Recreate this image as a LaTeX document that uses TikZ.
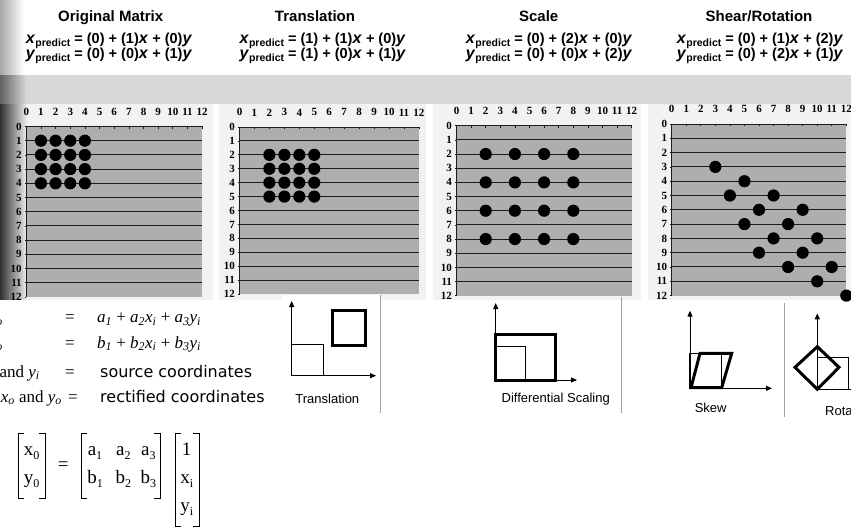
\documentclass[tikz,border=0pt]{standalone}
\usepackage{fontspec}
\setmainfont{Liberation Serif}
\newfontfamily\arial{Liberation Sans}
\newfontfamily\verd{DejaVu Sans}
\usetikzlibrary{arrows.meta,fadings}

\definecolor{bandgray}{RGB}{216,216,216}
\definecolor{panelgray}{RGB}{242,242,242}
\definecolor{gridgray}{RGB}{174,174,174}
\definecolor{lineink}{RGB}{28,28,28}
\definecolor{sepgray}{RGB}{160,160,160}

\newcommand\fsz[1]{\fontsize{#1}{#1}\selectfont}
\newcommand\peq[4]{{\fsz{16}\textit{#1}}\raisebox{-3pt}{\fsz{10.5}predict} = (#2) + (#3){\fsz{16}\textit{x}} + (#4){\fsz{16}\textit{y}}}
\newcommand\isub[2]{\textit{#1}\textsubscript{\textit{#2}}}
\newcommand\usub[2]{#1\raisebox{-4pt}{\fsz{12}#2}}

\newcommand\gridpanel[6]{%
\begin{scope}[shift={(#2pt,-#3pt)}, x=#4pt, y=-#5pt]
  \fill[gridgray] (0,0) rectangle (12,12);
  \foreach \j in {1,...,11} \draw[gridline] (0,\j) -- (12,\j);
  \draw[axisline] (0,0) -- (12,0);
  \draw[axisline] (0,0) -- (0,12);
  \foreach \i in {0,...,12} {
    \draw[axisline] (\i,0) -- (\i,0.15);
    \node[collabel] (#1c\i) at (\i,-1.05) {\i};
    \draw[axisline] (-0.12,\i) -- (0,\i);
    \node[rowlabel] (#1r\i) at (-0.3,\i) {\i};
  }
  \foreach \dx/\dy in {#6} \fill[black] (\dx,\dy) circle (6.1pt);
\end{scope}}

\begin{document}
\begin{tikzpicture}[x=1pt,y=-1pt,
  gridline/.style={draw=lineink,line width=1pt},
  axisline/.style={draw=lineink,line width=0.7pt},
  collabel/.style={font=\fsz{11}\bfseries,inner sep=0pt},
  rowlabel/.style={font=\fsz{11}\bfseries,inner sep=0pt,anchor=east},
  title/.style={font=\arial\bfseries\fsz{15},inner sep=0pt,anchor=base},
  eqn/.style={font=\arial\bfseries\fsz{14.5},inner sep=0pt,anchor=base},
  axisarrow/.style={draw=black,line width=1pt,-{Triangle[length=6pt,width=5pt]}},
  thinbox/.style={draw=black,line width=1.1pt},
  thickbox/.style={draw=black,line width=3pt,line join=miter},
  caplabel/.style={font=\arial\fsz{13},inner sep=0pt},
  sepline/.style={draw=sepgray,line width=0.8pt},
  fml/.style={font=\fsz{17},inner sep=0pt,anchor=base west},
  eqsign/.style={font=\fsz{17},inner sep=0pt,anchor=base},
  sansfml/.style={font=\verd\fsz{16},inner sep=0pt,anchor=base west},
  mtx/.style={font=\fsz{19},inner sep=0pt,anchor=base},
  brk/.style={draw=black,line width=0.8pt},
]
\useasboundingbox (0,0) rectangle (851,529);
\fill[white] (0,0) rectangle (851,529);

% band and panels
\fill[bandgray] (0,75) rectangle (851,104);
\fill[panelgray] (0,104) rectangle (213,300);
\fill[panelgray] (219,104) rectangle (426,300);
\fill[panelgray] (433,104) rectangle (641,300);
\fill[panelgray] (648,104) rectangle (851,300);

% scan shadow on the left
\fill[black,opacity=0.35,path fading=east] (0,0) rectangle (24,75);
\fill[black,opacity=0.55,path fading=east] (0,75) rectangle (26,104);
\fill[black,opacity=0.8,path fading=east] (0,104) rectangle (27,300);

% titles
\node[title] (t1) at (110.7,22) {Original Matrix};
\node[eqn] (e1a) at (109,44) {\peq{x}{0}{1}{0}};
\node[eqn] (e1b) at (109,59) {\peq{y}{0}{0}{1}};
\node[title] (t2) at (315,22) {Translation};
\node[eqn] (e2a) at (322.7,44) {\peq{x}{1}{1}{0}};
\node[eqn] (e2b) at (322.7,59) {\peq{y}{1}{0}{1}};
\node[title] (t3) at (538.7,22) {Scale};
\node[eqn] (e3a) at (549,44) {\peq{x}{0}{2}{0}};
\node[eqn] (e3b) at (549,59) {\peq{y}{0}{0}{2}};
\node[title] (t4) at (759,22) {Shear/Rotation};
\node[eqn] (e4a) at (760,44) {\peq{x}{0}{1}{2}};
\node[eqn] (e4b) at (760,59) {\peq{y}{0}{2}{1}};

% grids
\gridpanel{pa}{26.3}{126.5}{14.65}{14.2}{1/1,2/1,3/1,4/1,1/2,2/2,3/2,4/2,1/3,2/3,3/3,4/3,1/4,2/4,3/4,4/4}
\gridpanel{pb}{239.5}{127}{14.95}{13.92}{2/2,3/2,4/2,5/2,2/3,3/3,4/3,5/3,2/4,3/4,4/4,5/4,2/5,3/5,4/5,5/5}
\gridpanel{pc}{456.5}{125.7}{14.6}{14.17}{2/2,4/2,6/2,8/2,2/4,4/4,6/4,8/4,2/6,4/6,6/6,8/6,2/8,4/8,6/8,8/8}
\gridpanel{pd}{671.7}{124}{14.55}{14.3}{3/3,5/4,4/5,7/5,6/6,9/6,5/7,8/7,7/8,10/8,6/9,9/9,8/10,11/10,10/11,12/12}

% white boxes of the small sketches
\fill[white] (281.7,295) rectangle (380,415);

% Translation sketch
\coordinate (trO) at (291.7,375.7);
\coordinate (trY) at (291.7,301);
\coordinate (trX) at (376,375.7);
\draw[thinbox] (291.7,344.3) rectangle (323.3,375.7);
\draw[axisarrow] (trO) -- (trY);
\draw[axisarrow] (trO) -- (trX);
\draw[thickbox] (332.7,310.7) rectangle (365.7,345);
\node[caplabel] (trL) at (327.3,399) {Translation};
\coordinate (s1a) at (380,295);
\coordinate (s1b) at (380,413);
\draw[sepline] (s1a) -- (s1b);

% Differential scaling sketch
\coordinate (dsO) at (495.7,380);
\coordinate (dsY) at (495.7,303);
\coordinate (dsX) at (577,380);
\draw[thinbox] (495.7,346.7) rectangle (525.7,380);
\draw[axisarrow] (dsO) -- (dsY);
\draw[axisarrow] (dsO) -- (dsX);
\draw[thickbox] (495.7,334.3) rectangle (555,380);
\node[caplabel] (dsL) at (555.7,399) {Differential Scaling};
\coordinate (s2a) at (621.7,297);
\coordinate (s2b) at (621.7,413);
\draw[sepline] (s2a) -- (s2b);

% Skew sketch
\coordinate (skO) at (690,388.3);
\coordinate (skY) at (690,310.7);
\coordinate (skX) at (772,388.3);
\draw[thinbox] (690,353.3) rectangle (721.7,388.3);
\draw[axisarrow] (skO) -- (skY);
\draw[axisarrow] (skO) -- (skX);
\draw[thickbox] (691,387.7) -- (721.7,387.7) -- (731.7,353.3) -- (700,353.3) -- cycle;
\node[caplabel] (skL) at (710.7,408.3) {Skew};
\coordinate (s3a) at (784.3,303);
\coordinate (s3b) at (784.3,417);
\draw[sepline] (s3a) -- (s3b);

% Rotation sketch
\coordinate (roO) at (817.3,389.3);
\coordinate (roY) at (817.3,313.3);
\coordinate (roX) at (880,389.3);
\draw[thinbox] (817.3,357.7) rectangle (848.3,389.3);
\draw[axisarrow] (roO) -- (roY);
\draw[axisarrow] (roO) -- (roX);
\draw[thickbox] (817.3,346.7) -- (795,367.3) -- (817.3,389.3) -- (839,367.3) -- cycle;
\node[caplabel,anchor=west] (roL) at (825,410.7) {Rotation};

% equations bottom left
\node[fml,anchor=base east] (l1a) at (3,323) {\isub{x}{o}};
\node[eqsign] (l1b) at (70,323) {=};
\node[fml] (l1c) at (97,323) {\isub{a}{1} + \isub{a}{2}\isub{x}{i} + \isub{a}{3}\isub{y}{i}};
\node[fml,anchor=base east] (l2a) at (3,348) {\isub{y}{o}};
\node[eqsign] (l2b) at (70,348) {=};
\node[fml] (l2c) at (97,348) {\isub{b}{1} + \isub{b}{2}\isub{x}{i} + \isub{b}{3}\isub{y}{i}};
\node[fml,anchor=base east] (l3a) at (40,377) {\isub{x}{i} and \isub{y}{i}};
\node[eqsign] (l3b) at (70,377) {=};
\node[sansfml] (l3c) at (100,377) {source coordinates};
\node[fml,anchor=base east] (l4a) at (62,402) {\isub{x}{o} and \isub{y}{o}};
\node[eqsign] (l4b) at (73,402) {=};
\node[sansfml] (l4c) at (100,402) {rectified coordinates};

% matrix equation
\draw[brk] (24,433) -- (18.3,433) -- (18.3,498.3) -- (24,498.3);
\draw[brk] (39.3,433) -- (45,433) -- (45,498.3) -- (39.3,498.3);
\node[mtx] (m1) at (31.7,455) {\usub{x}{0}};
\node[mtx] (m2) at (31.7,483) {\usub{y}{0}};
\node[mtx] (meq) at (63.3,470) {=};
\draw[brk] (87.4,433) -- (81.7,433) -- (81.7,498.3) -- (87.4,498.3);
\draw[brk] (154.3,433) -- (160,433) -- (160,498.3) -- (154.3,498.3);
\node[mtx] (ma1) at (95,455) {\usub{a}{1}};
\node[mtx] (ma2) at (123.3,455) {\usub{a}{2}};
\node[mtx] (ma3) at (148.3,455) {\usub{a}{3}};
\node[mtx] (mb1) at (95,483) {\usub{b}{1}};
\node[mtx] (mb2) at (123.3,483) {\usub{b}{2}};
\node[mtx] (mb3) at (148.3,483) {\usub{b}{3}};
\draw[brk] (180.7,433) -- (175,433) -- (175,526.7) -- (180.7,526.7);
\draw[brk] (193.3,433) -- (199,433) -- (199,526.7) -- (193.3,526.7);
\node[mtx] (v1) at (186.7,455) {1};
\node[mtx] (v2) at (186.7,483) {\usub{x}{i}};
\node[mtx] (v3) at (186.7,511.7) {\usub{y}{i}};
\end{tikzpicture}
\end{document}
